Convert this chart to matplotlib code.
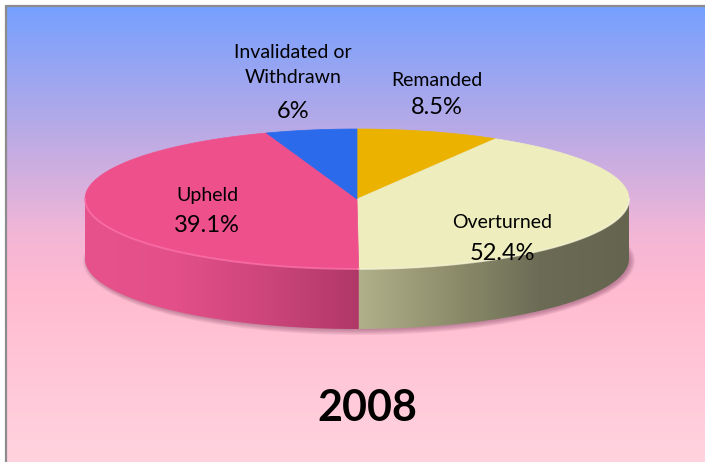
import matplotlib
matplotlib.use("Agg")
import matplotlib.pyplot as plt
import numpy as np
from matplotlib.colors import LinearSegmentedColormap
from matplotlib.patches import Ellipse, Polygon

# data
categories = ["Remanded", "Overturned", "Upheld", "Invalidated or\nWithdrawn"]
slice_shares = [8.5, 41.4, 44.7, 5.4]  # angular share as drawn in the pie
pct_labels = ["8.5%", "52.4%", "39.1%", "6%"]
year_label = "2008"

# styles
top_colors = ["#ECB200", "#EDEDBE", "#EE508C", "#2A6AEB"]
wall_colors = [
    ["#C99700", "#A87E00"],
    ["#B0B08A", "#8E8E6C", "#6C6C56", "#65654F"],
    ["#E8528C", "#E34F89", "#CC457B", "#B03867"],
    ["#2358C8", "#1B47A0"],
]
rim_colors = [None, "#F5F5D8", "#FF7AB0", None]
label_pos = [(437, 80, 108), (502, 222, 254), (207, 195, 225), (293, 65, 111)]

# pie geometry (pixels)
cx, cy, rx, ry, depth = 357, 199, 272, 70, 60


def ell(theta):
    t = np.radians(theta)
    return cx + rx * np.cos(t), cy - ry * np.sin(t)


def main() -> None:
    fig = plt.figure(figsize=(7.05, 4.62), dpi=100)
    ax = fig.add_axes([0, 0, 1, 1])
    ax.set_xlim(0, 705)
    ax.set_ylim(462, 0)
    ax.axis("off")

    # background gradient
    bg = LinearSegmentedColormap.from_list(
        "bg",
        [(0.0, "#76A0FF"), (0.27, "#B8AAE6"), (0.5, "#F3B6D6"),
         (0.62, "#FFBBD0"), (1.0, "#FFD3DF")],
    )
    grad = np.linspace(0, 1, 256).reshape(-1, 1)
    ax.imshow(grad, extent=(6, 706, 463, 6), cmap=bg, aspect="auto", zorder=0)
    ax.plot([6, 706], [6, 6], color="#8C8C8C", lw=1.6, zorder=1,
            solid_capstyle="butt")
    ax.plot([6, 6], [5, 463], color="#8C8C8C", lw=1.6, zorder=1,
            solid_capstyle="butt")

    # soft shadow under the pie
    for k in range(6):
        ax.add_patch(Ellipse((cx + 2, cy + depth + 2), 2 * rx + 8 - 2 * k,
                             2 * ry + 8 - 2 * k, facecolor="#6A3050",
                             alpha=0.08, edgecolor="none", zorder=2))

    shares = np.array(slice_shares, dtype=float)
    angles = 360 * shares / shares.sum()
    starts = 90 - np.concatenate([[0], np.cumsum(angles)[:-1]])
    ends = starts - angles

    # side walls (front half only: angles between -180 and 0)
    for s, e, wc, rc in zip(starts, ends, wall_colors, rim_colors):
        a0, a1 = max(e, -180), min(s, 0)
        if a1 <= a0:
            continue
        th = np.linspace(a1, a0, 120)
        xs, ys = ell(th)
        px = np.concatenate([xs, xs[::-1]])
        py = np.concatenate([ys, ys[::-1] + depth])
        poly = Polygon(np.column_stack([px, py]), closed=True,
                       facecolor="none", edgecolor="none", zorder=3)
        ax.add_patch(poly)
        cmap = LinearSegmentedColormap.from_list("w", wc)
        hg = np.linspace(0, 1, 256).reshape(1, -1)
        im = ax.imshow(hg, extent=(px.min(), px.max(), py.max(), py.min()),
                       cmap=cmap, aspect="auto", zorder=3)
        im.set_clip_path(poly)

    # top face
    for s, e, tc in zip(starts, ends, top_colors):
        th = np.linspace(s, e, 120)
        xs, ys = ell(th)
        pts = np.column_stack([np.r_[cx, xs], np.r_[cy, ys]])
        ax.add_patch(Polygon(pts, closed=True, facecolor=tc,
                             edgecolor=tc, lw=0.5, zorder=4))

    # light rim on the front edge of the top face
    for s, e, rc in zip(starts, ends, rim_colors):
        a0, a1 = max(e, -180), min(s, 0)
        if rc is None or a1 <= a0:
            continue
        xs, ys = ell(np.linspace(a1, a0, 120))
        ax.plot(xs, ys, color=rc, alpha=0.6, lw=1.4, zorder=5)

    # labels
    for name, pct, (lx, ny, py_) in zip(categories, pct_labels, label_pos):
        ax.text(lx, ny, name, ha="center", va="center", fontsize=14,
                family="Lato", linespacing=1.6, zorder=6)
        ax.text(lx, py_, pct, ha="center", va="center", fontsize=17,
                family="Lato", zorder=6)

    ax.text(367, 408, year_label, ha="center", va="center", fontsize=31,
            fontweight="bold", family="Lato", zorder=6)

    fig.savefig("out.png", dpi=100)
    plt.close(fig)


if __name__ == "__main__":
    main()
